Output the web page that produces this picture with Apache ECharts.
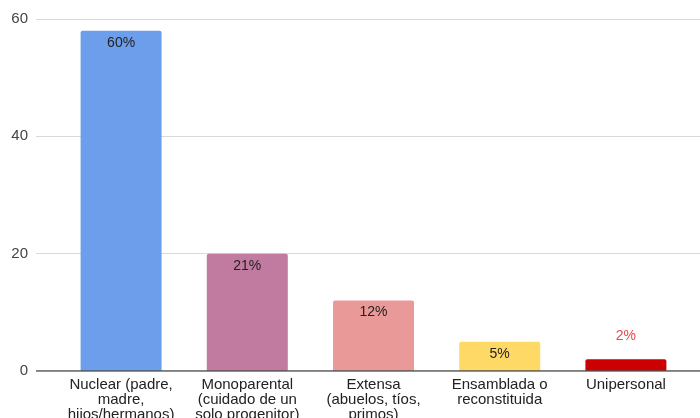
<!DOCTYPE html>
<html>
<head>
<meta charset="utf-8">
<script src="https://cdn.jsdelivr.net/npm/echarts@6/dist/echarts.min.js"></script>
<style>
  html, body { margin: 0; padding: 0; background: #fff; }
  #chart { width: 700px; height: 418px; }
</style>
</head>
<body>
<div id="chart"></div>
<script>
const categories = [
  'Nuclear (padre,\nmadre,\nhijos/hermanos)',
  'Monoparental\n(cuidado de un\nsolo progenitor)',
  'Extensa\n(abuelos, tíos,\nprimos)',
  'Ensamblada o\nreconstituida',
  'Unipersonal'
];
const values = [58, 20, 12, 5, 2];
const labels = ['60%', '21%', '12%', '5%', '2%'];
const colors = ['#6d9eeb', '#c27ba0', '#ea9999', '#ffd966', '#cc0000'];
const yTicks = [0, 20, 40, 60];

const myChart = echarts.init(document.getElementById('chart'));

// small bars get their label above, in red
const barData = values.map((v, i) => {
  const outside = v < 4;
  return {
    value: v,
    itemStyle: { color: colors[i], borderRadius: [2, 2, 0, 0] },
    label: {
      show: true,
      formatter: labels[i],
      position: outside ? 'top' : 'insideTop',
      distance: outside ? 16 : 5,
      color: outside ? '#e64a4a' : '#222',
      fontFamily: 'Liberation Sans',
      fontSize: 14
    }
  };
});

myChart.setOption({
  animation: false,
  grid: [
    { left: 36, right: 0, top: 19, bottom: 47, outerBoundsMode: 'none' },
    { left: 58, right: 11, top: 19, bottom: 47, outerBoundsMode: 'none' }
  ],
  xAxis: [
    {
      gridIndex: 0, type: 'value', min: 0, max: 1, show: false
    },
    {
      gridIndex: 1,
      type: 'category',
      data: categories,
      axisTick: { show: false },
      axisLine: { show: false },
      axisLabel: {
        interval: 0,
        margin: 6,
        color: '#222',
        fontFamily: 'Liberation Sans',
        fontSize: 15,
        lineHeight: 15
      }
    }
  ],
  yAxis: [
    {
      gridIndex: 0,
      type: 'value',
      min: yTicks[0],
      max: yTicks[yTicks.length - 1],
      interval: 20,
      axisLine: { show: false },
      axisTick: { show: false },
      axisLabel: {
        margin: 8,
        color: '#444',
        fontFamily: 'Liberation Sans',
        fontSize: 15
      },
      splitLine: { lineStyle: { color: '#d9d9d9', width: 1 } }
    },
    {
      gridIndex: 1,
      type: 'value',
      min: yTicks[0],
      max: yTicks[yTicks.length - 1],
      interval: 20,
      show: false
    }
  ],
  series: [
    {
      // baseline across the full plot width
      type: 'line',
      xAxisIndex: 0,
      yAxisIndex: 0,
      data: [[0, 0], [1, 0]],
      symbol: 'none',
      silent: true,
      z: 5,
      lineStyle: { color: '#555', width: 1.5 }
    },
    {
      type: 'bar',
      xAxisIndex: 1,
      yAxisIndex: 1,
      barWidth: 81,
      data: barData,
      z: 3
    }
  ]
});
</script>
</body>
</html>
